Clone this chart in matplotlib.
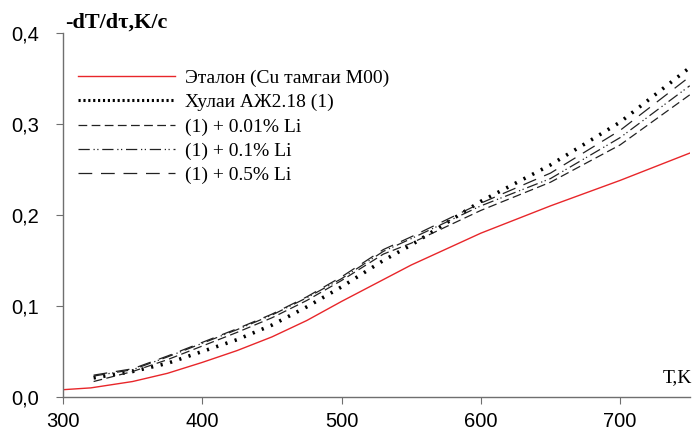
import matplotlib.pyplot as plt
from matplotlib.lines import Line2D
import numpy as np

# Температура, K
T_ref = [300, 320, 350, 375, 400, 425, 450, 475, 500, 550, 600, 650, 700, 750]
T_alloy = [322, 350, 375, 400, 425, 450, 475, 500, 530, 550, 600, 650, 700, 750]

# -dT/dτ, K/c
v_ref = [0.008, 0.010, 0.017, 0.026, 0.038, 0.051, 0.066, 0.084, 0.105, 0.145, 0.180, 0.210, 0.238, 0.268]
v_base = [0.021, 0.028, 0.037, 0.050, 0.063, 0.079, 0.099, 0.121, 0.150, 0.167, 0.215, 0.255, 0.302, 0.362]
v_li001 = [0.017, 0.028, 0.041, 0.056, 0.071, 0.087, 0.106, 0.128, 0.157, 0.169, 0.205, 0.236, 0.277, 0.332]
v_li01 = [0.023, 0.030, 0.044, 0.059, 0.074, 0.090, 0.109, 0.130, 0.160, 0.174, 0.210, 0.240, 0.285, 0.342]
v_li05 = [0.024, 0.031, 0.045, 0.060, 0.075, 0.091, 0.110, 0.132, 0.162, 0.176, 0.213, 0.246, 0.293, 0.352]

labels = ["Эталон (Cu тамгаи М00)", "Хулаи АЖ2.18 (1)",
          "(1) + 0.01% Li", "(1) + 0.1% Li", "(1) + 0.5% Li"]

fig = plt.figure(figsize=(6.96, 4.34), dpi=100)
ax = fig.add_axes([0.0905, 0.0853, 0.9005, 0.8387])

l0, = ax.plot(T_ref, v_ref, color='#e8262a', lw=1.0)
ax.plot(T_alloy, v_base, color='black', lw=2.6, ls=(0, (0.6, 2.1)))
l2, = ax.plot(T_alloy, v_li001, color='#222222', lw=0.9, ls=(0, (7, 3.5)))
l3, = ax.plot(T_alloy, v_li01, color='#222222', lw=0.9, ls=(0, (9, 3, 1, 2, 1, 3)))
l4, = ax.plot(T_alloy, v_li05, color='#222222', lw=0.9, ls=(0, (11, 7)))
# в легенде точки плотнее
l1 = Line2D([], [], color='black', lw=2.2, ls=(0, (0.7, 0.9)))

ax.set_xlim(300, 750)
ax.set_ylim(0, 0.4)
ax.set_xticks([300, 400, 500, 600, 700])
ax.set_yticks([0.0, 0.1, 0.2, 0.3, 0.4])
ax.set_yticklabels(['0,0', '0,1', '0,2', '0,3', '0,4'])

for s in ['top', 'right']:
    ax.spines[s].set_visible(False)
for s in ['left', 'bottom']:
    ax.spines[s].set_color('#6f6f6f')
    ax.spines[s].set_linewidth(1.0)
ax.tick_params(axis='both', colors='#6f6f6f', labelcolor='black', length=5,
               labelsize=14.5, direction='out')
ax.tick_params(axis='y', pad=12)
ax.tick_params(axis='x', pad=6)
for lbl in ax.get_xticklabels() + ax.get_yticklabels():
    lbl.set_family('Liberation Sans')

fig.text(0.094, 0.947, '-dT/dτ,K/c', family='Liberation Serif', fontsize=16,
         fontweight='bold', va='center', ha='left')
fig.text(0.994, 0.13, 'T,K', family='Liberation Serif', fontsize=14,
         va='center', ha='right')

ax.legend([l0, l1, l2, l3, l4], labels, loc='upper left',
          bbox_to_anchor=(0.024, 0.9), frameon=False,
          prop={'family': 'Liberation Serif', 'size': 14},
          handlelength=5.0, handletextpad=0.5, labelspacing=0.34,
          borderaxespad=0.0, borderpad=0.0)

fig.savefig('out.png', dpi=100)
